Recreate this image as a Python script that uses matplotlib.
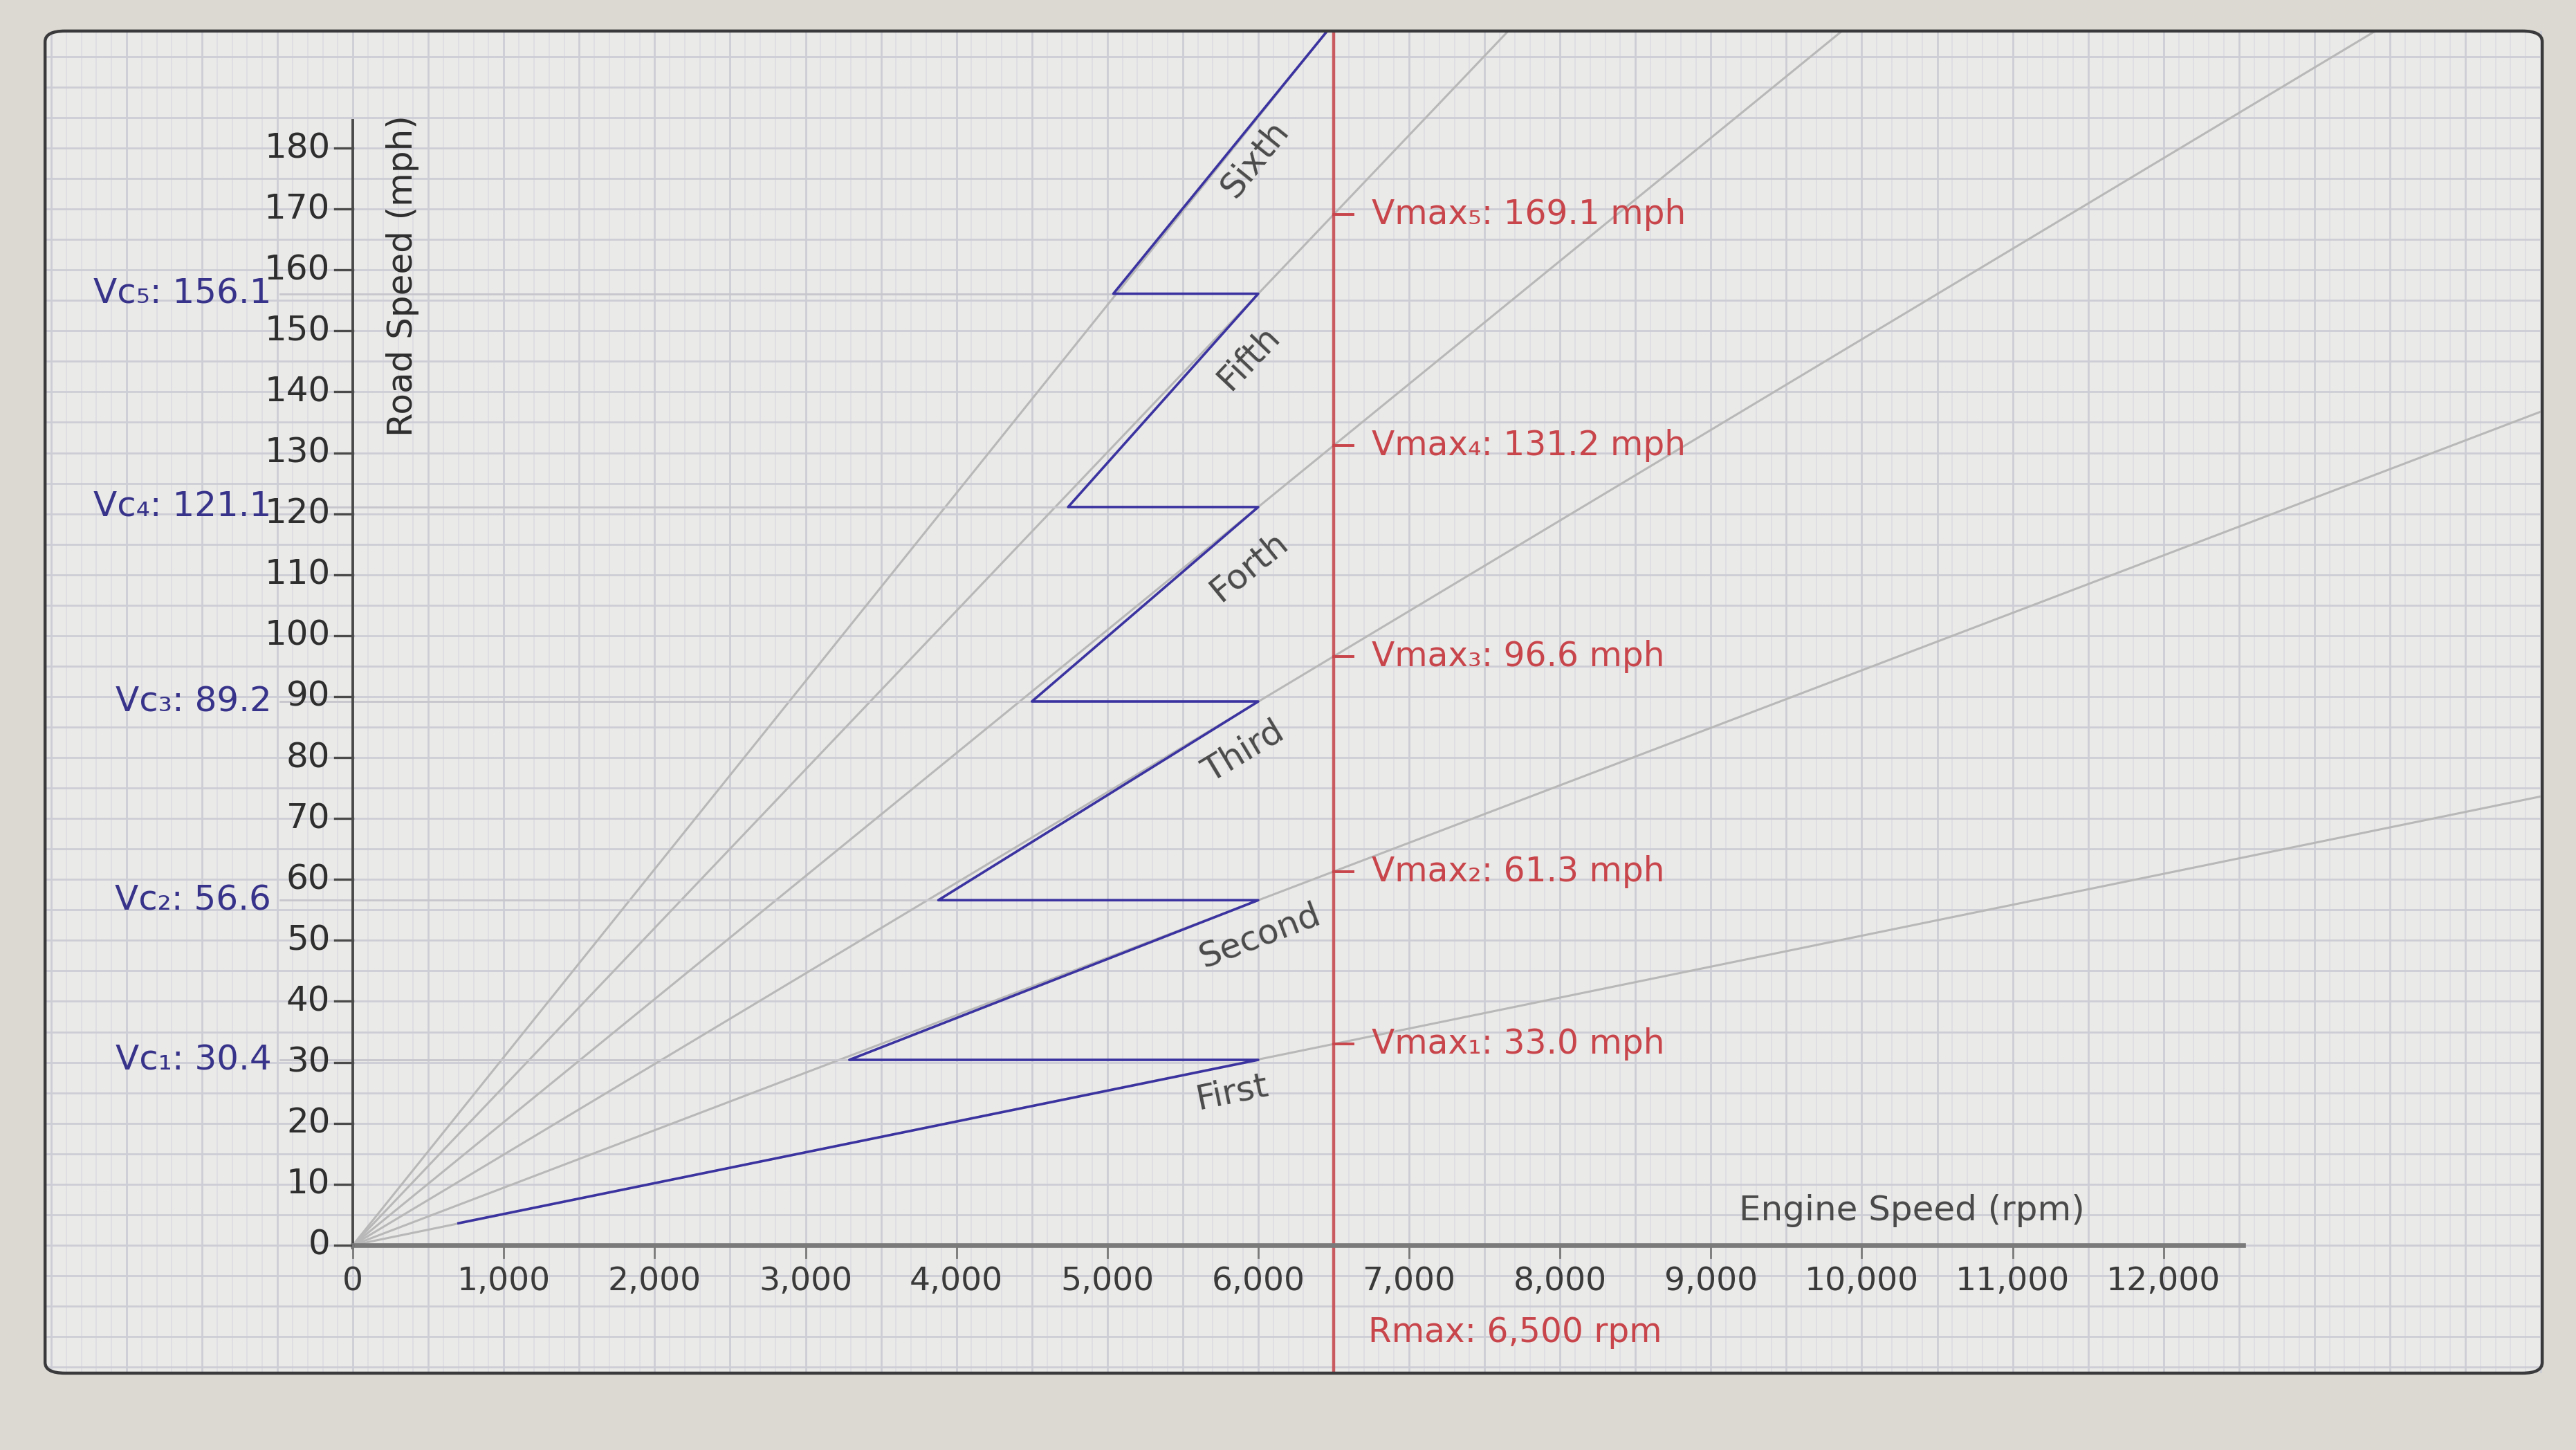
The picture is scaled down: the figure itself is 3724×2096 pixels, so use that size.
#Gear ratio / shift chart

import math
import matplotlib.pyplot as plt
from matplotlib.patches import FancyBboxPatch

#data
gear_names = ['First', 'Second', 'Third', 'Forth', 'Fifth', 'Sixth']
vmax_mph = [33.0, 61.3, 96.6, 131.2, 169.1, 200.5]   # road speed at Rmax, sixth runs off the top
vmax_names = ['Vmax₁', 'Vmax₂', 'Vmax₃', 'Vmax₄', 'Vmax₅']
vc_mph = [30.4, 56.6, 89.2, 121.1, 156.1]            # speed at the 6,000 rpm shift point
vc_names = ['Vc₁', 'Vc₂', 'Vc₃', 'Vc₄', 'Vc₅']
vc_start_rpm = [3290, 3880, 4500, 4740, 5040]        # rpm after the upshift
rmax_rpm = 6500

#sawtooth through the gears
saw_rpm = [700, 6000, 3290, 6000, 3880, 6000, 4500, 6000, 4740, 6000, 5040, 6500]
saw_mph = [3.6, 30.4, 30.4, 56.6, 56.6, 89.2, 89.2, 121.1, 121.1, 156.1, 156.1, 200.5]

y_ticks = list(range(0, 190, 10))
x_ticks = list(range(0, 13000, 1000))
x_tick_labels = ['0'] + ['{:,}'.format(v) for v in x_ticks[1:]]

#colours
BLUE = '#3b33a0'
RED = '#c8454b'
RAY = '#b8b8b8'
TXT = '#2e2e2e'

plt.rcParams['font.family'] = ['DejaVu Sans']

fig = plt.figure(figsize=(18.62, 10.48), dpi=200, facecolor='#dbd9d1')
ax = fig.add_axes([0.0175, 0.053, 0.9694, 0.9256])
ax.set_xlim(-2040, 14510)
ax.set_ylim(-21.0, 199.2)
ax.set_facecolor('none')
for s in ax.spines.values():
    s.set_visible(False)

#rounded panel behind everything and its border on top
ax.add_patch(FancyBboxPatch((0, 0), 1, 1, boxstyle='round,pad=0,rounding_size=0.008',
                            transform=ax.transAxes, facecolor='#eaeae8', edgecolor='none',
                            zorder=0, clip_on=False))
ax.add_patch(FancyBboxPatch((0, 0), 1, 1, boxstyle='round,pad=0,rounding_size=0.008',
                            transform=ax.transAxes, facecolor='none', edgecolor='#3a3a3c',
                            linewidth=1.6, zorder=20, clip_on=False))

#background grid
ax.set_xticks(range(-2000, 14600, 500))
ax.set_xticks(range(-2000, 14600, 100), minor=True)
ax.set_yticks(range(-20, 200, 5))
ax.tick_params(which='both', length=0, labelbottom=False, labelleft=False)
ax.set_axisbelow(True)
ax.grid(which='major', color='#cdcdd6', linewidth=1.0)
ax.grid(which='minor', axis='x', color='#dcdce2', linewidth=0.6)

#gear rays from the origin
for v in vmax_mph:
    ax.plot([0, 3 * rmax_rpm], [0, 3 * v], color=RAY, linewidth=1.1, zorder=2)

#faint guides at the shift speeds
for v, r in zip(vc_mph, vc_start_rpm):
    ax.plot([-480, r], [v, v], color='#c6c6cc', linewidth=1.0, zorder=2)

#sawtooth
ax.plot(saw_rpm, saw_mph, color=BLUE, linewidth=1.3, zorder=5)

#red Rmax line and Vmax ticks
ax.axvline(rmax_rpm, color=RED, linewidth=1.6, alpha=0.85, zorder=4)
for v, name in zip(vmax_mph, vmax_names):
    ax.plot([rmax_rpm, rmax_rpm + 130], [v, v], color=RED, linewidth=1.4, zorder=4)
    ax.text(rmax_rpm + 250, v, '{}: {:.1f} mph'.format(name, v), color=RED,
            fontsize=17.5, ha='left', va='center', zorder=6)
ax.text(rmax_rpm + 230, -14.3, 'Rmax: {:,} rpm'.format(rmax_rpm), color=RED,
        fontsize=17.5, ha='left', va='center', zorder=6)

#axes drawn by hand
ax.plot([0, 0], [-0.5, 184.5], color='#4a4a4a', linewidth=1.4, zorder=6)
ax.plot([0, 12530], [0, 0], color='#7a7a7a', linewidth=2.4, zorder=6)
for t in y_ticks:
    ax.plot([-120, 0], [t, t], color='#4a4a4a', linewidth=1.2, zorder=6)
    ax.text(-150, t, str(t), fontsize=18, color=TXT, ha='right', va='center', zorder=6)
for t, lab in zip(x_ticks, x_tick_labels):
    ax.plot([t, t], [0, -2.0], color='#7a7a7a', linewidth=1.0, zorder=6)
    ax.text(t, -6.0, lab, fontsize=17, color='#3a3a3a', ha='center', va='center', zorder=6)

ax.text(330, 159, 'Road Speed (mph)', rotation=90, fontsize=18, color=TXT,
        ha='center', va='center', zorder=6)
ax.text(10330, 5.7, 'Engine Speed (rpm)', fontsize=18, color='#4a4a4a',
        ha='center', va='center', zorder=6)

#shift speed labels
for v, name in zip(vc_mph, vc_names):
    ax.text(-540, v, '{}: {:.1f}'.format(name, v), fontsize=18, color='#38338a',
            ha='right', va='center', zorder=6)

#gear names along the lines
label_rpm = [5826, 6011, 5902, 5935, 5935, 5978]
label_mph = [25.1, 50.7, 80.9, 111.3, 145.6, 178.2]
for name, v, x, y in zip(gear_names, vmax_mph, label_rpm, label_mph):
    p0 = ax.transData.transform((0, 0))
    p1 = ax.transData.transform((rmax_rpm, v))
    ang = math.degrees(math.atan2(p1[1] - p0[1], p1[0] - p0[0]))
    ax.text(x, y, name, rotation=ang, rotation_mode='anchor', fontsize=18,
            color='#4a4a4a', ha='center', va='center', zorder=6)

fig.savefig('out.png', dpi=200, facecolor=fig.get_facecolor())
plt.close()
